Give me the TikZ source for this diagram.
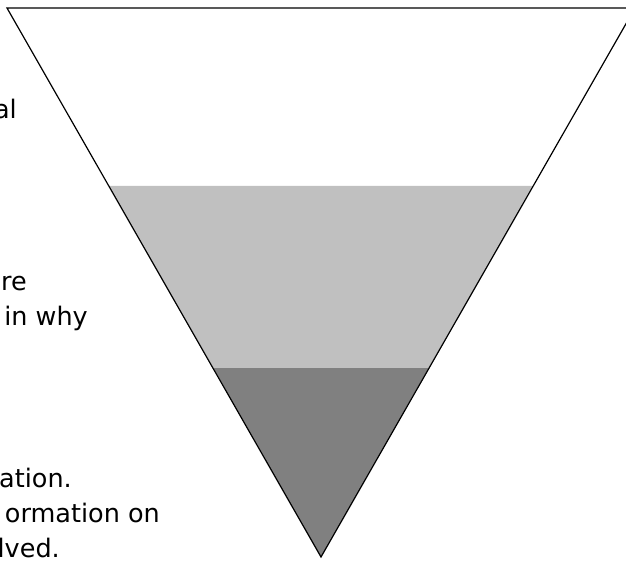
\documentclass[tikz,border=0pt]{standalone}
\usepackage{fontspec}
\setmainfont{DejaVu Sans}
\begin{document}
\begin{tikzpicture}[x=1pt,y=-1pt,
  txt/.style={inner sep=0pt,anchor=base east,font=\fontsize{25.5}{30}\selectfont},
  lightband/.style={fill={rgb,255:red,192;green,192;blue,192}},
  darkband/.style={fill={rgb,255:red,128;green,128;blue,128}},
  outline/.style={draw=black,line width=1.2pt,line join=miter}]
\useasboundingbox (0,0) rectangle (626,561);
\clip (0,0) rectangle (626,561);
% bands
\fill[lightband] (109,186) -- (533,186) -- (429,368) -- (213,368) -- cycle;
\fill[darkband] (213,368) -- (429,368) -- (321,557) -- cycle;
% triangle outline
\draw[outline] (7,8) -- (635,8) -- (321,557) -- cycle;
% clipped text fragments
\node[txt] (t1) at (17,119) {al};
\node[txt] (t2) at (27,290) {ore};
\node[txt] (t3) at (88,325) {in why};
\node[txt] (t4) at (72,487) {ation.};
\node[txt] (t5) at (160,522) {ormation on};
\node[txt] (t6) at (60,557) {lved.};
\end{tikzpicture}
\end{document}
